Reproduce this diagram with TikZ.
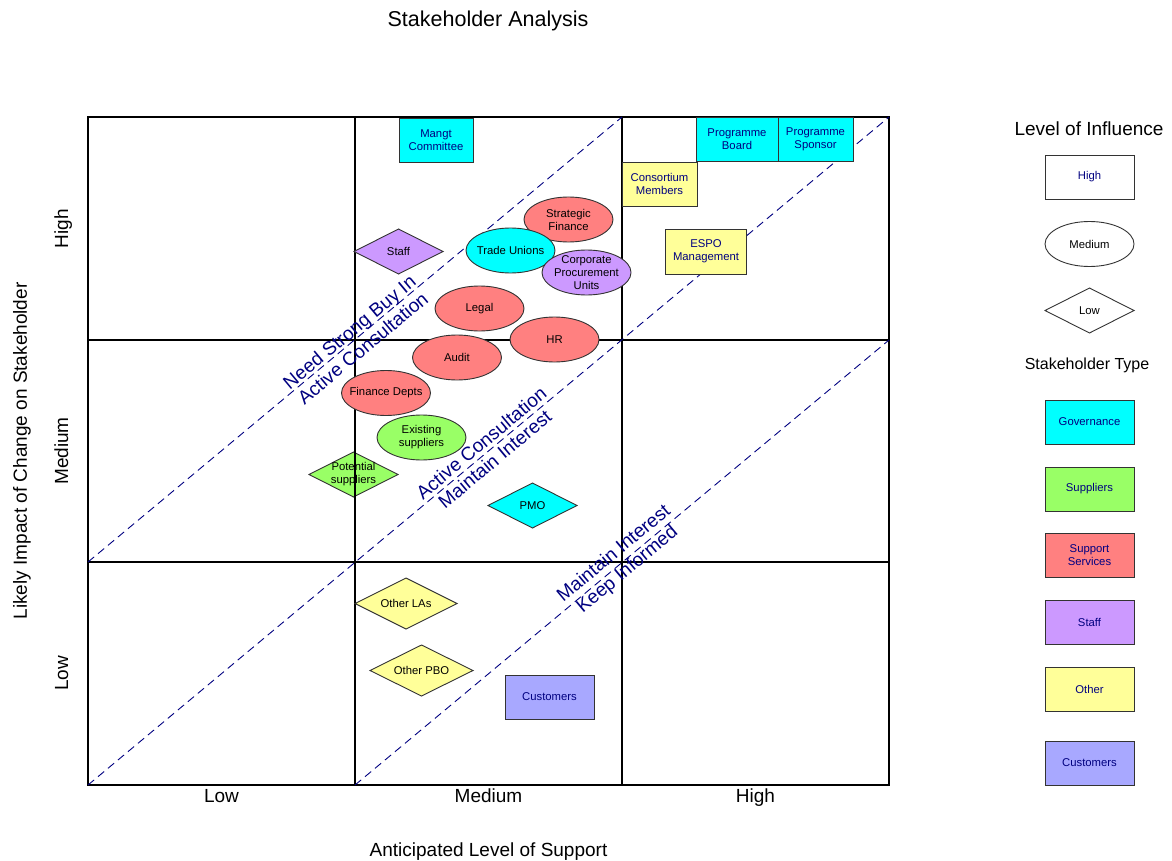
\documentclass[tikz,border=0pt]{standalone}
\usepackage{fontspec}
\setmainfont{Liberation Sans}
\usetikzlibrary{shapes.geometric}

\definecolor{gov}{HTML}{00FFFF}
\definecolor{sup}{HTML}{99FF66}
\definecolor{svc}{HTML}{FF8080}
\definecolor{stf}{HTML}{CC99FF}
\definecolor{oth}{HTML}{FFFF99}
\definecolor{cst}{HTML}{A8A8FF}
\definecolor{ink}{HTML}{000080}
\definecolor{rim}{HTML}{333333}

\begin{document}
\begin{tikzpicture}[x=1pt,y=-1pt,
  sh/.style={draw=rim, line width=0.9pt, inner sep=0pt, outer sep=0pt},
  box/.style={sh, rectangle, minimum width=89pt, minimum height=44pt,
    align=center, text=ink, font=\fontsize{11.3}{13}\selectfont},
  ell/.style={sh, ellipse, minimum width=89pt, minimum height=45pt},
  dia/.style={sh, diamond, minimum width=89pt, minimum height=45pt},
  every label/.style={align=center, text=black, inner sep=0pt,
    font=\fontsize{11.3}{13}\selectfont},
  grid/.style={black, line width=1.1pt},
  zone/.style={ink, line width=0.9pt, dash pattern=on 8pt off 5pt},
  zonetext/.style={text=ink, align=center, rotate=39.8,
    font=\fontsize{19}{21}\selectfont},
  axis/.style={font=\fontsize{19}{22}\selectfont, inner sep=0pt,
    text height=14pt, text depth=4pt},
]
\useasboundingbox (0,0) rectangle (1172,861);

% grid corners
\coordinate (g00) at (88,117);
\coordinate (g30) at (889,117);
\coordinate (g03) at (88,785);
\coordinate (g33) at (889,785);
\coordinate (v1t) at (355,117);
\coordinate (v1b) at (355,785);
\coordinate (v2t) at (622,117);
\coordinate (v2b) at (622,785);
\coordinate (h1l) at (88,340);
\coordinate (h1r) at (889,340);
\coordinate (h2l) at (88,562);
\coordinate (h2r) at (889,562);

% stakeholder that sits under the grid lines
\node[dia, fill=sup, label={center:Potential\\suppliers}] (potsup) at (353.5,474.5) {};

% matrix grid
\draw[grid] (g00) rectangle (g33);
\draw[grid] (v1t) -- (v1b);
\draw[grid] (v2t) -- (v2b);
\draw[grid] (h1l) -- (h1r);
\draw[grid] (h2l) -- (h2r);

% zone boundaries
\draw[zone] (h2l) -- (v2t);
\draw[zone] (g03) -- (g30);
\draw[zone] (v1b) -- (h1r);

% zone captions
\node[zonetext] (z1) at (356,340) {Need Strong Buy In\\Active Consultation};
\node[zonetext] (z2) at (488,451) {Active Consultation\\Maintain Interest};
\node[zonetext] (z3) at (621,562) {Maintain Interest\\Keep Informed};

% high-influence stakeholders
\node[box, fill=gov, minimum width=74pt] (mangt) at (436,140) {Mangt\\Committee};
\node[box, fill=gov, minimum width=82pt] (pboard) at (737,139) {Programme\\Board};
\node[box, fill=gov, minimum width=75pt] (psponsor) at (815.5,139) {Programme\\Sponsor};
\node[box, fill=oth, minimum width=75pt] (consort) at (659.5,184) {Consortium\\Members};
\node[box, fill=oth, minimum width=81pt, minimum height=45pt] (espo) at (706,251.5) {ESPO\\Management};
\node[box, fill=cst] (cust) at (549.5,697) {Customers};

% medium-influence stakeholders
\node[ell, fill=svc, label={center:Strategic\\Finance}] (stratfin) at (568.5,219.5) {};
\node[ell, fill=gov, label={center:Trade Unions}] (unions) at (510.5,250.5) {};
\node[ell, fill=stf, label={center:Corporate\\Procurement\\Units}] (cpu) at (586.5,272.5) {};
\node[ell, fill=svc, label={center:Legal}] (legal) at (479.5,308.5) {};
\node[ell, fill=svc, label={center:HR}] (hr) at (554.5,339.5) {};
\node[ell, fill=svc, label={center:Audit}] (audit) at (457,357.5) {};
\node[ell, fill=svc, label={center:Finance Depts}] (findepts) at (386,393) {};
\node[ell, fill=sup, label={center:Existing\\suppliers}] (exsup) at (421.5,437.5) {};

% low-influence stakeholders
\node[dia, fill=stf, label={center:Staff}] (staff) at (398.5,251.5) {};
\node[dia, fill=gov, label={center:PMO}] (pmo) at (532.5,505.5) {};
\node[dia, fill=oth, minimum width=102pt, minimum height=51pt, label={center:Other LAs}] (otherla) at (406,603.5) {};
\node[dia, fill=oth, minimum width=103pt, minimum height=51pt, label={center:Other PBO}] (otherpbo) at (421.5,670.5) {};

% titles and axes
\node[font=\fontsize{21.5}{24}\selectfont] (title) at (488,21) {Stakeholder Analysis};
\node[axis] (xlow) at (221.5,797) {Low};
\node[axis] (xmed) at (488.5,797) {Medium};
\node[axis] (xhigh) at (755.5,797) {High};
\node[axis] (xlabel) at (488.5,851) {Anticipated Level of Support};
\node[axis, rotate=90] (ylow) at (63,673.5) {Low};
\node[axis, rotate=90] (ymed) at (63,451) {Medium};
\node[axis, rotate=90] (yhigh) at (63,228.5) {High};
\node[axis, rotate=90] (ylabel) at (22,451) {Likely Impact of Change on Stakeholder};

% legend: level of influence
\node[axis] (infl) at (1089,131) {Level of Influence};
\node[box, fill=white] (lhigh) at (1089.5,177) {High};
\node[ell, fill=white, label={center:Medium}] (lmed) at (1089.5,244) {};
\node[dia, fill=white, label={center:Low}] (llow) at (1089.5,310.5) {};

% legend: stakeholder type
\node[font=\fontsize{16}{19}\selectfont] (stype) at (1087,365) {Stakeholder Type};
\node[box, fill=gov] (tgov) at (1089.5,422) {Governance};
\node[box, fill=sup] (tsup) at (1089.5,489) {Suppliers};
\node[box, fill=svc] (tsvc) at (1089.5,555.5) {Support\\Services};
\node[box, fill=stf] (tstf) at (1089.5,622.5) {Staff};
\node[box, fill=oth] (toth) at (1089.5,689) {Other};
\node[box, fill=cst] (tcst) at (1089.5,763) {Customers};
\end{tikzpicture}
\end{document}
